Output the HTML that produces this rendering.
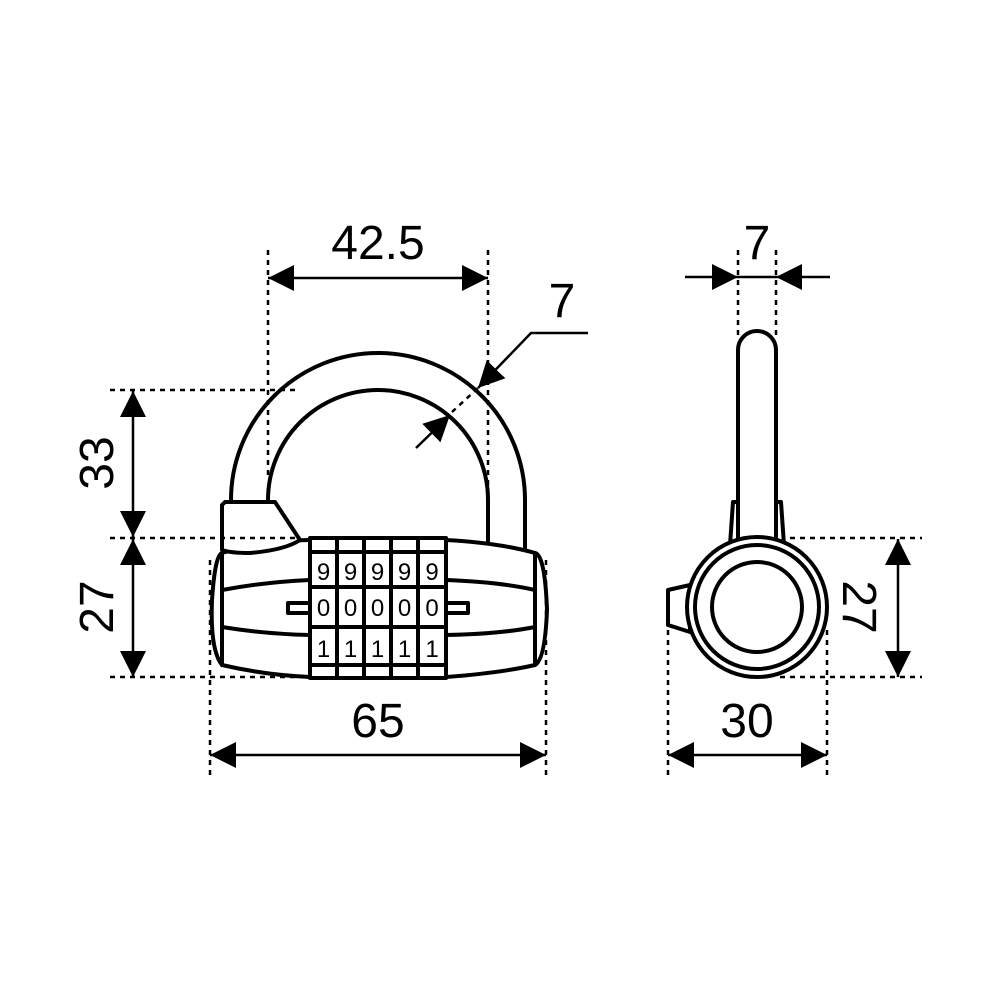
<!DOCTYPE html>
<html><head><style>
html,body{margin:0;padding:0;background:#fff;}
svg{display:block}
text{font-family:"Liberation Sans",sans-serif;fill:#000;}
</style></head><body>
<svg width="1000" height="1000" viewBox="0 0 1000 1000" xmlns="http://www.w3.org/2000/svg">
<defs>
<marker id="a" viewBox="0 0 10 10" refX="10" refY="5" markerWidth="26" markerHeight="26" markerUnits="userSpaceOnUse" orient="auto-start-reverse"><path d="M0,0 L10,5 L0,10 z" fill="#000"/></marker>
</defs>
<g fill="#fff" stroke="#000" stroke-width="4" stroke-linejoin="round">
<path d="M231,505 L231,500 A147,147 0 0 1 525,500 L525,550 L488,550 L488,500 A110,110 0 0 0 268,500 L268,505 Z"/>
<path d="M222,553 Q215,555 212,600 Q210,650 222,665 Z"/>
<path d="M535,553 Q545,555 547,610 Q545,660 535,665 Z"/>
<path d="M222,553 Q265,540 310,540 L446,540 Q500,543 535,553 L535,665 Q500,673 446,677 L310,677 Q265,675 222,665 Z"/>
<path d="M222,590 Q265,582 310,580 M446,580 Q500,582 535,590 M222,627 Q265,634 310,635 M446,635 Q500,634 535,627" fill="none"/>
<path d="M225,502 L275,502 L300,540 Q285,550 250,553 Q230,553 222,550 L222,505 Z"/>
<rect x="288" y="603" width="22" height="10"/>
<rect x="446" y="603" width="22" height="10"/>
<rect x="310" y="538" width="136" height="140"/>
<path d="M337,538V678 M364,538V678 M391,538V678 M418,538V678 M310,552H446 M310,587H446 M310,627H446 M310,665H446" fill="none"/>
<path d="M738,545 L738,350 A19,19 0 0 1 776,350 L776,545"/>
<path d="M730,545 L733,502 L738,502 L738,545 Z M784,545 L781,502 L776,502 L776,545 Z"/>
<path d="M668,590 L690,585 L690,632 L668,625 Z"/>
<circle cx="757" cy="607" r="70"/>
<circle cx="757" cy="607" r="62"/>
<circle cx="757" cy="607" r="45"/>
</g>
<g fill="none" stroke="#000" stroke-width="2.5" stroke-dasharray="5,5">
<line x1="268" y1="250" x2="268" y2="475"/>
<line x1="488" y1="250" x2="488" y2="540"/>
<line x1="110" y1="390" x2="300" y2="390"/>
<line x1="110" y1="538" x2="300" y2="538"/>
<line x1="110" y1="677" x2="310" y2="677"/>
<line x1="210" y1="560" x2="210" y2="780"/>
<line x1="546" y1="560" x2="546" y2="780"/>
<line x1="452" y1="412" x2="478" y2="388"/>
<line x1="738" y1="250" x2="738" y2="335"/>
<line x1="776" y1="250" x2="776" y2="335"/>
<line x1="790" y1="538" x2="922" y2="538"/>
<line x1="780" y1="677" x2="922" y2="677"/>
<line x1="668" y1="630" x2="668" y2="780"/>
<line x1="827" y1="630" x2="827" y2="780"/>
</g>
<g fill="none" stroke="#000" stroke-width="2.5">
<line x1="268" y1="278" x2="488" y2="278" marker-start="url(#a)" marker-end="url(#a)"/>
<line x1="133" y1="391" x2="133" y2="537" marker-start="url(#a)" marker-end="url(#a)"/>
<line x1="133" y1="539" x2="133" y2="677" marker-start="url(#a)" marker-end="url(#a)"/>
<line x1="210" y1="755" x2="546" y2="755" marker-start="url(#a)" marker-end="url(#a)"/>
<polyline points="588,333 531,333 478,388" marker-end="url(#a)"/>
<line x1="416" y1="448" x2="450" y2="415" marker-end="url(#a)"/>
<line x1="685" y1="277" x2="738" y2="277" marker-end="url(#a)"/>
<line x1="830" y1="277" x2="776" y2="277" marker-end="url(#a)"/>
<line x1="738" y1="277" x2="776" y2="277"/>
<line x1="898" y1="539" x2="898" y2="677" marker-start="url(#a)" marker-end="url(#a)"/>
<line x1="668" y1="755" x2="827" y2="755" marker-start="url(#a)" marker-end="url(#a)"/>
</g>
<g font-size="24" text-anchor="middle">
<text x="323.5" y="580">9</text><text x="350.5" y="580">9</text><text x="377.5" y="580">9</text><text x="404.5" y="580">9</text><text x="432" y="580">9</text>
<text x="323.5" y="616">0</text><text x="350.5" y="616">0</text><text x="377.5" y="616">0</text><text x="404.5" y="616">0</text><text x="432" y="616">0</text>
<text x="323.5" y="657">1</text><text x="350.5" y="657">1</text><text x="377.5" y="657">1</text><text x="404.5" y="657">1</text><text x="432" y="657">1</text>
</g>
<g font-size="48" text-anchor="middle">
<text x="378" y="259">42.5</text>
<text x="562" y="317">7</text>
<text x="757" y="259">7</text>
<text x="378" y="737">65</text>
<text x="747" y="737">30</text>
<text transform="translate(113,463) rotate(-90)">33</text>
<text transform="translate(113,607) rotate(-90)">27</text>
<text transform="translate(843,607) rotate(90)">27</text>
</g>
</svg>
</body></html>
